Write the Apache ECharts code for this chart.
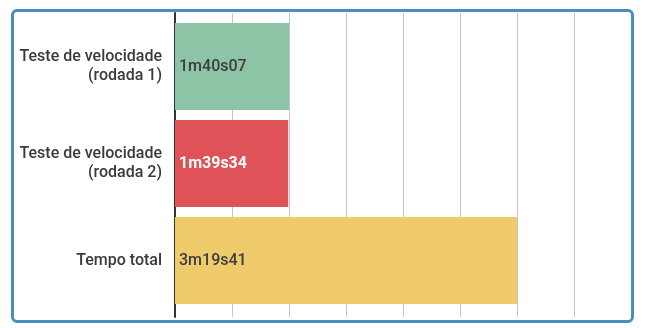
<!DOCTYPE html>
<html>
<head>
<meta charset="utf-8">
<script src="https://cdn.jsdelivr.net/npm/echarts@6/dist/echarts.min.js"></script>
<style>
  html, body { margin: 0; padding: 0; background: #ffffff; }
  #chart { position: absolute; left: 0; top: 0; width: 647px; height: 328px; }
  #frame { position: absolute; left: 11px; top: 9px; width: 623px; height: 314px;
           box-sizing: border-box; border: 3px solid #4690bb; border-radius: 6px;
           pointer-events: none; }
</style>
</head>
<body>
<div id="chart"></div>
<div id="frame"></div>
<script>
const categories = ['Teste de velocidade\n(rodada 1)', 'Teste de velocidade\n(rodada 2)', 'Tempo total'];
const values = [100.07, 99.34, 300];
const valueLabels = ['1m40s07', '1m39s34', '3m19s41'];
const barColors = ['#8ec4a6', '#df5257', '#efcb6b'];
const labelColors = ['#3d3d3d', '#ffffff', '#3d3d3d'];
const labelWeights = [500, 'bold', 500];
const axisMax = 400;
const axisInterval = 50;

const chart = echarts.init(document.getElementById('chart'), null, { renderer: 'canvas' });
const font = 'Roboto, "Noto Sans", sans-serif';

chart.setOption({
  animation: false,
  backgroundColor: '#ffffff',
  grid: [
    { left: 175, width: 456, top: 13, height: 304 },
    { left: 175, width: 456, top: 18, height: 291 }
  ],
  xAxis: [
    { gridIndex: 0, type: 'value', min: 0, max: axisMax, interval: axisInterval,
      axisLine: { show: false }, axisTick: { show: false }, axisLabel: { show: false },
      splitLine: { show: true, lineStyle: { color: '#c6c6c6', width: 1 } } },
    { gridIndex: 1, type: 'value', min: 0, max: axisMax, interval: axisInterval,
      axisLine: { show: false }, axisTick: { show: false }, axisLabel: { show: false },
      splitLine: { show: false } }
  ],
  yAxis: [
    { gridIndex: 0, type: 'value', min: 0, max: 1,
      axisLine: { show: true, lineStyle: { color: '#333333', width: 2 } },
      axisTick: { show: false }, axisLabel: { show: false }, splitLine: { show: false } },
    { gridIndex: 1, type: 'category', inverse: true, data: categories,
      axisLine: { show: false }, axisTick: { show: false }, splitLine: { show: false },
      axisLabel: { fontFamily: font, fontSize: 16, fontWeight: 500, color: '#3a3a3a', margin: 13,
                   lineHeight: 19, align: 'right' } }
  ],
  series: [{
    type: 'bar',
    xAxisIndex: 1, yAxisIndex: 1,
    barWidth: 87,
    data: values.map((v, i) => ({
      value: v,
      itemStyle: { color: barColors[i] },
      label: { color: labelColors[i], fontWeight: labelWeights[i] }
    })),
    label: {
      show: true, position: 'insideLeft', distance: 4,
      fontFamily: font, fontSize: 16,
      formatter: (p) => valueLabels[p.dataIndex]
    }
  }]
});
</script>
</body>
</html>
